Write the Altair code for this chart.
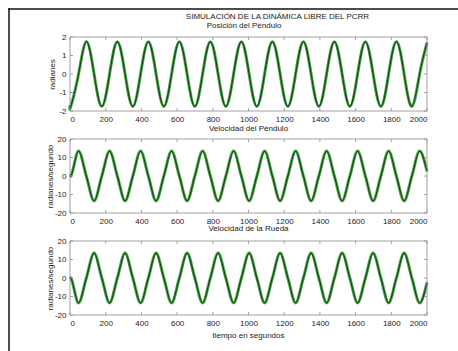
import altair as alt
import pandas as pd

# ---- data ----
tiempo = [0, 4.6, 48.0, 91.5, 134.9, 178.3, 221.7, 265.2, 308.6, 352.0, 395.4,
          438.9, 482.3, 525.7, 569.1, 612.6, 656.0, 699.4, 742.8, 786.3, 829.7,
          873.1, 916.5, 960.0, 1003.4, 1046.8, 1090.2, 1133.7, 1177.1, 1220.5,
          1263.9, 1307.4, 1350.8, 1394.2, 1437.6, 1481.1, 1524.5, 1567.9, 1611.3,
          1654.8, 1698.2, 1741.6, 1785.0, 1828.5, 1871.9, 1915.3, 1958.7, 2000]

posicion = [-1.70,
            -1.75, 0.0, 1.75, 0.0, -1.75, 0.0, 1.75, 0.0, -1.75, 0.0, 1.75, 0.0,
            -1.75, 0.0, 1.75, 0.0, -1.75, 0.0, 1.75, 0.0, -1.75, 0.0, 1.75, 0.0,
            -1.75, 0.0, 1.75, 0.0, -1.75, 0.0, 1.75, 0.0, -1.75, 0.0, 1.75, 0.0,
            -1.75, 0.0, 1.75, 0.0, -1.75, 0.0, 1.75, 0.0, -1.75, 0.0,
            1.70]

vel_pendulo = [-0.5,
               0.0, 13.5, 0.0, -13.5, 0.0, 13.5, 0.0, -13.5, 0.0, 13.5, 0.0, -13.5,
               0.0, 13.5, 0.0, -13.5, 0.0, 13.5, 0.0, -13.5, 0.0, 13.5, 0.0, -13.5,
               0.0, 13.5, 0.0, -13.5, 0.0, 13.5, 0.0, -13.5, 0.0, 13.5, 0.0, -13.5,
               0.0, 13.5, 0.0, -13.5, 0.0, 13.5, 0.0, -13.5, 0.0, 13.5,
               2.5]

vel_rueda = [0.5,
             0.0, -13.5, 0.0, 13.5, 0.0, -13.5, 0.0, 13.5, 0.0, -13.5, 0.0, 13.5,
             0.0, -13.5, 0.0, 13.5, 0.0, -13.5, 0.0, 13.5, 0.0, -13.5, 0.0, 13.5,
             0.0, -13.5, 0.0, 13.5, 0.0, -13.5, 0.0, 13.5, 0.0, -13.5, 0.0, 13.5,
             0.0, -13.5, 0.0, 13.5, 0.0, -13.5, 0.0, 13.5, 0.0, -13.5,
             -2.5]

x_ticks = [0, 200, 400, 600, 800, 1000, 1200, 1400, 1600, 1800, 2000]
y_ticks_pos = [-2, -1, 0, 1, 2]
y_ticks_vel = [-20, -10, 0, 10, 20]

titulo = "SIMULACIÓN DE LA DINÁMICA LIBRE DEL PCRR"
subtitulo = "Posición del Péndulo"
titulos_x = ["Velocidad del Péndulo", "Velocidad de la Rueda", "tiempo en segundos"]
titulos_y = ["radianes", "radianes/segundo", "radianes/segundo"]

# ---- layout (pixels, relative to the plotting origin) ----
W, H = 357, 74
TOTAL_H = 278
PANEL_TOP = [0, 102, 204]
FONT = "Liberation Sans"
AXC = "#8c8c8c"
TXT = "#1a1a1a"

df = pd.DataFrame({"t": tiempo, "pos": posicion, "vp": vel_pendulo, "vr": vel_rueda})
one = pd.DataFrame({"a": [0]})


def label_text(txt, x, y, align="center"):
    return alt.Chart(one).mark_text(font=FONT, fontSize=8, color=TXT, baseline="middle",
                                    align=align).encode(
        x=alt.value(x), y=alt.value(y), text=alt.value(txt))


def panel(field, ydom, yticks, y0, ytitle, ytitle_x, interp):
    y1 = y0 + H
    xs = alt.Scale(domain=[0, 2000], nice=False, range=[0, W])
    ys = alt.Scale(domain=ydom, nice=False, range=[y1, y0])
    xax = alt.Axis(values=x_ticks, title=None, orient="bottom", offset=y1 - TOTAL_H,
                   labelPadding=4, tickSize=0, labelExpr="'' + datum.value")
    yax = alt.Axis(values=yticks, title=ytitle, orient="left", labelPadding=4, tickSize=0,
                   labelExpr="'' + datum.value",
                   titleBaseline="middle", titleX=ytitle_x, titleY=(y0 + y1) / 2,
                   titleAngle=270)
    x_enc = alt.X("t:Q", scale=xs, axis=xax, title=None)
    y_enc = alt.Y(f"{field}:Q", scale=ys, axis=yax, title=ytitle)
    glow = alt.Chart(df).mark_line(color="#46a846", strokeWidth=3.0,
                                   interpolate=interp).encode(x=x_enc, y=y_enc)
    core = alt.Chart(df).mark_line(color="#1f471f", strokeWidth=1.2,
                                   interpolate=interp).encode(x=x_enc, y=y_enc)
    xt = pd.DataFrame({"t": x_ticks})
    yt = pd.DataFrame({field: yticks})
    tk = dict(color=AXC, strokeWidth=0.8)
    top_t = alt.Chart(xt).mark_rule(**tk).encode(x=x_enc, y=alt.value(y0), y2=alt.value(y0 + 3))
    bot_t = alt.Chart(xt).mark_rule(**tk).encode(x=x_enc, y=alt.value(y1 - 3), y2=alt.value(y1))
    lef_t = alt.Chart(yt).mark_rule(**tk).encode(y=y_enc, x=alt.value(0), x2=alt.value(3))
    rig_t = alt.Chart(yt).mark_rule(**tk).encode(y=y_enc, x=alt.value(W - 3), x2=alt.value(W))
    return alt.layer(glow, core, top_t, bot_t, lef_t, rig_t)


def box(y0):
    return alt.Chart(one).mark_rect(stroke=AXC, strokeWidth=0.8, fillOpacity=0).encode(
        x=alt.value(0), x2=alt.value(W), y=alt.value(y0), y2=alt.value(y0 + H))


p1 = panel("pos", [-2, 2], y_ticks_pos, PANEL_TOP[0], titulos_y[0], -18, "natural")
p2 = panel("vp", [-20, 20], y_ticks_vel, PANEL_TOP[1], titulos_y[1], -20, "monotone")
p3 = panel("vr", [-20, 20], y_ticks_vel, PANEL_TOP[2], titulos_y[2], -20, "monotone")

frame_left = alt.Chart(one).mark_rule(color="#111111", strokeWidth=1.5).encode(
    x=alt.value(-61), y=alt.value(-28.75), y2=alt.value(320))
frame_top = alt.Chart(one).mark_rule(color="#111111", strokeWidth=1.5).encode(
    x=alt.value(-61.75), x2=alt.value(400), y=alt.value(-28))

decor = [box(PANEL_TOP[0]), box(PANEL_TOP[1]), box(PANEL_TOP[2]),
         frame_left, frame_top,
         label_text(titulo, 207.5, -20.3),
         label_text(subtitulo, 174, -11.3),
         label_text(titulos_x[0], W / 2, PANEL_TOP[0] + H + 18),
         label_text(titulos_x[1], W / 2, PANEL_TOP[1] + H + 16),
         label_text(titulos_x[2], W / 2, PANEL_TOP[2] + H + 20.5)]

chart = alt.layer(p1, p2, p3, *decor).resolve_scale(
    x="independent", y="independent"
).properties(
    width=W, height=TOTAL_H,
    autosize=alt.AutoSizeParams(type="none"),
    padding={"left": 70, "top": 37, "right": 31, "bottom": 36},
    background="white",
).configure_view(strokeWidth=0).configure_axis(
    domain=False, ticks=False, grid=False,
    labelFont=FONT, labelFontSize=8, labelColor=TXT,
    titleFont=FONT, titleFontSize=8, titleFontWeight="normal", titleColor=TXT,
)

chart.save("out.html", embed_options={"renderer": "svg", "actions": False})
